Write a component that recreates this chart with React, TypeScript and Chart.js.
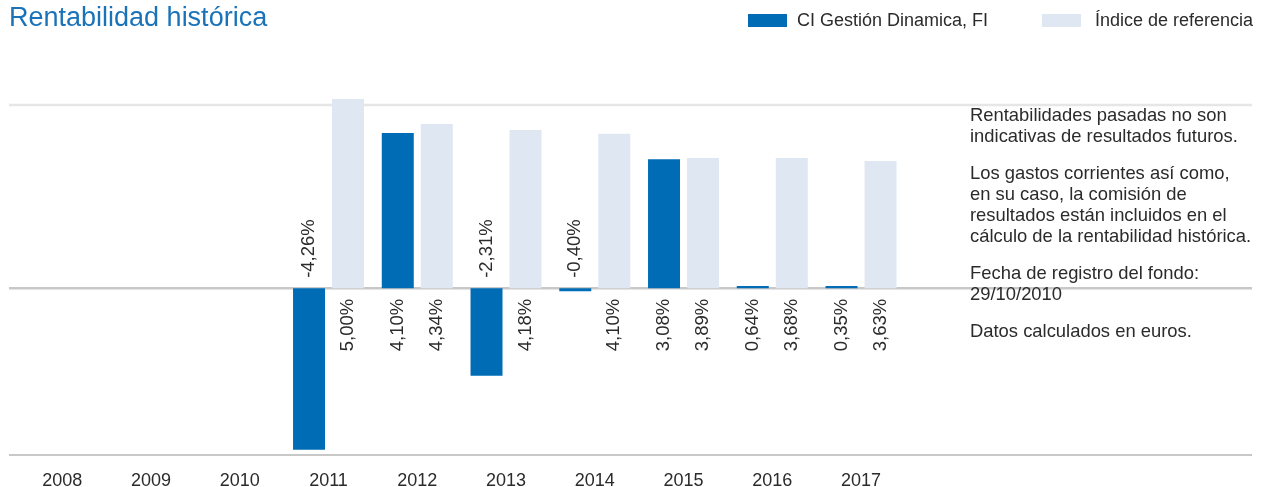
import React, { useEffect, useRef } from 'react';
import { Chart, registerables } from 'chart.js';

Chart.register(...registerables);

// ---- data ----
const years = ['2008', '2009', '2010', '2011', '2012', '2013', '2014', '2015', '2016', '2017'];
// bar heights as drawn in the reference (percent units)
const fundValues = [null, null, null, -4.26, 4.1, -2.31, -0.08, 3.41, 0.06, 0.06];
const indexValues = [null, null, null, 5.0, 4.34, 4.18, 4.08, 3.44, 3.44, 3.36];
// printed value labels
const fundLabels = ['', '', '', '-4,26%', '4,10%', '-2,31%', '-0,40%', '3,08%', '0,64%', '0,35%'];
const indexLabels = ['', '', '', '5,00%', '4,34%', '4,18%', '4,10%', '3,89%', '3,68%', '3,63%'];
const seriesNames = ['CI Gestión Dinamica, FI', 'Índice de referencia'];
const titleText = 'Rentabilidad histórica';
const notes = [
  ['Rentabilidades pasadas no son', 'indicativas de resultados futuros.'],
  ['Los gastos corrientes así como,', 'en su caso, la comisión de', 'resultados están incluidos en el', 'cálculo de la rentabilidad histórica.'],
  ['Fecha de registro del fondo:', '29/10/2010'],
  ['Datos calculados en euros.'],
];
const yMin = -4.4;
const yMax = 4.84;

const FONT = '"Liberation Sans", Arial, Helvetica, sans-serif';
const FUND_COLOR = '#006cb6';
const INDEX_COLOR = '#dfe7f3';
const TEXT_COLOR = '#2b2b2b';

const linesPlugin = {
  id: 'refLines',
  beforeDatasetsDraw(chart: any) {
    const { ctx } = chart;
    const y = chart.scales.y;
    const x0 = 9;
    const x1 = 1252;
    const line = (py: number, color: string, w: number) => {
      ctx.save();
      ctx.strokeStyle = color;
      ctx.lineWidth = w;
      ctx.beginPath();
      ctx.moveTo(x0, py);
      ctx.lineTo(x1, py);
      ctx.stroke();
      ctx.restore();
    };
    line(y.getPixelForValue(yMax), '#e6e6e6', 2.5);
    const z = y.getPixelForValue(0);
    line(z + 1.2, '#e4e4e4', 1);
    line(z - 0.4, '#c8c8c8', 2);
    line(y.getPixelForValue(yMin), '#c8c8c8', 2);
  },
};

const valueLabelsPlugin = {
  id: 'valueLabels',
  afterDatasetsDraw(chart: any) {
    const { ctx } = chart;
    const y = chart.scales.y;
    const zero = y.getPixelForValue(0);
    chart.data.datasets.forEach((ds: any, di: number) => {
      const meta = chart.getDatasetMeta(di);
      const labels = di === 0 ? fundLabels : indexLabels;
      meta.data.forEach((bar: any, i: number) => {
        const v = ds.data[i];
        const txt = labels[i];
        if (v == null || !txt) return;
        ctx.save();
        ctx.translate(bar.x, zero);
        ctx.rotate(-Math.PI / 2);
        ctx.font = `18.5px ${FONT}`;
        ctx.fillStyle = TEXT_COLOR;
        ctx.textBaseline = 'middle';
        if (v >= 0) {
          ctx.textAlign = 'right';
          ctx.fillText(txt, -10.5, 0);
        } else {
          ctx.textAlign = 'left';
          ctx.fillText(txt, 10.5, 0);
        }
        ctx.restore();
      });
    });
  },
};

export default function App() {
  const canvasRef = useRef<HTMLCanvasElement | null>(null);

  useEffect(() => {
    if (!canvasRef.current) return;
    const chart = new Chart(canvasRef.current, {
      type: 'bar',
      data: {
        labels: years,
        datasets: [
          {
            label: seriesNames[0],
            data: fundValues,
            backgroundColor: FUND_COLOR,
            categoryPercentage: 0.879,
            barPercentage: 0.82,
            clip: false,
          } as any,
          {
            label: seriesNames[1],
            data: indexValues,
            backgroundColor: INDEX_COLOR,
            categoryPercentage: 0.879,
            barPercentage: 0.82,
            clip: false,
          } as any,
        ],
      },
      options: {
        responsive: false,
        animation: false,
        devicePixelRatio: 1,
        layout: { padding: { left: 17.9, right: 364.6, top: 105, bottom: 0 } },
        plugins: {
          legend: { display: false },
          tooltip: { enabled: false },
        },
        scales: {
          x: {
            grid: { display: false, drawTicks: false },
            border: { display: false },
            ticks: {
              color: TEXT_COLOR,
              font: { family: FONT, size: 18 },
              padding: 15,
              maxRotation: 0,
              autoSkip: false,
            },
            afterFit: (s: any) => {
              s.height = 32;
            },
          },
          y: { display: false, min: yMin, max: yMax },
        },
      },
      plugins: [linesPlugin, valueLabelsPlugin],
    });
    return () => chart.destroy();
  }, []);

  return (
    <div style={{ position: 'fixed', left: 0, top: 0, width: 1270, height: 487, background: '#fff', overflow: 'hidden', fontFamily: FONT }}>
      <canvas ref={canvasRef} width={1270} height={487} style={{ position: 'absolute', left: 0, top: 0, width: 1270, height: 487 }} />
      <div style={{ position: 'absolute', left: 9, top: 4, fontSize: 27, lineHeight: '27px', color: '#1a73b9', whiteSpace: 'nowrap' }}>
        {titleText}
      </div>
      {seriesNames.map((name, i) => (
        <React.Fragment key={name}>
          <div style={{ position: 'absolute', left: i === 0 ? 748 : 1042, top: 14, width: 39, height: 13, background: i === 0 ? FUND_COLOR : INDEX_COLOR }} />
          <div style={{ position: 'absolute', left: i === 0 ? 797 : 1095, top: 11, fontSize: 18, lineHeight: '18px', color: TEXT_COLOR, whiteSpace: 'nowrap' }}>
            {name}
          </div>
        </React.Fragment>
      ))}
      <div style={{ position: 'absolute', left: 970, top: 104, fontSize: 18.4, lineHeight: '21px', color: TEXT_COLOR }}>
        {notes.map((p, i) => (
          <p key={i} style={{ margin: 0, marginBottom: 16, whiteSpace: 'nowrap' }}>
            {p.map((l, j) => (
              <React.Fragment key={j}>
                {l}
                {j < p.length - 1 ? <br /> : null}
              </React.Fragment>
            ))}
          </p>
        ))}
      </div>
    </div>
  );
}
